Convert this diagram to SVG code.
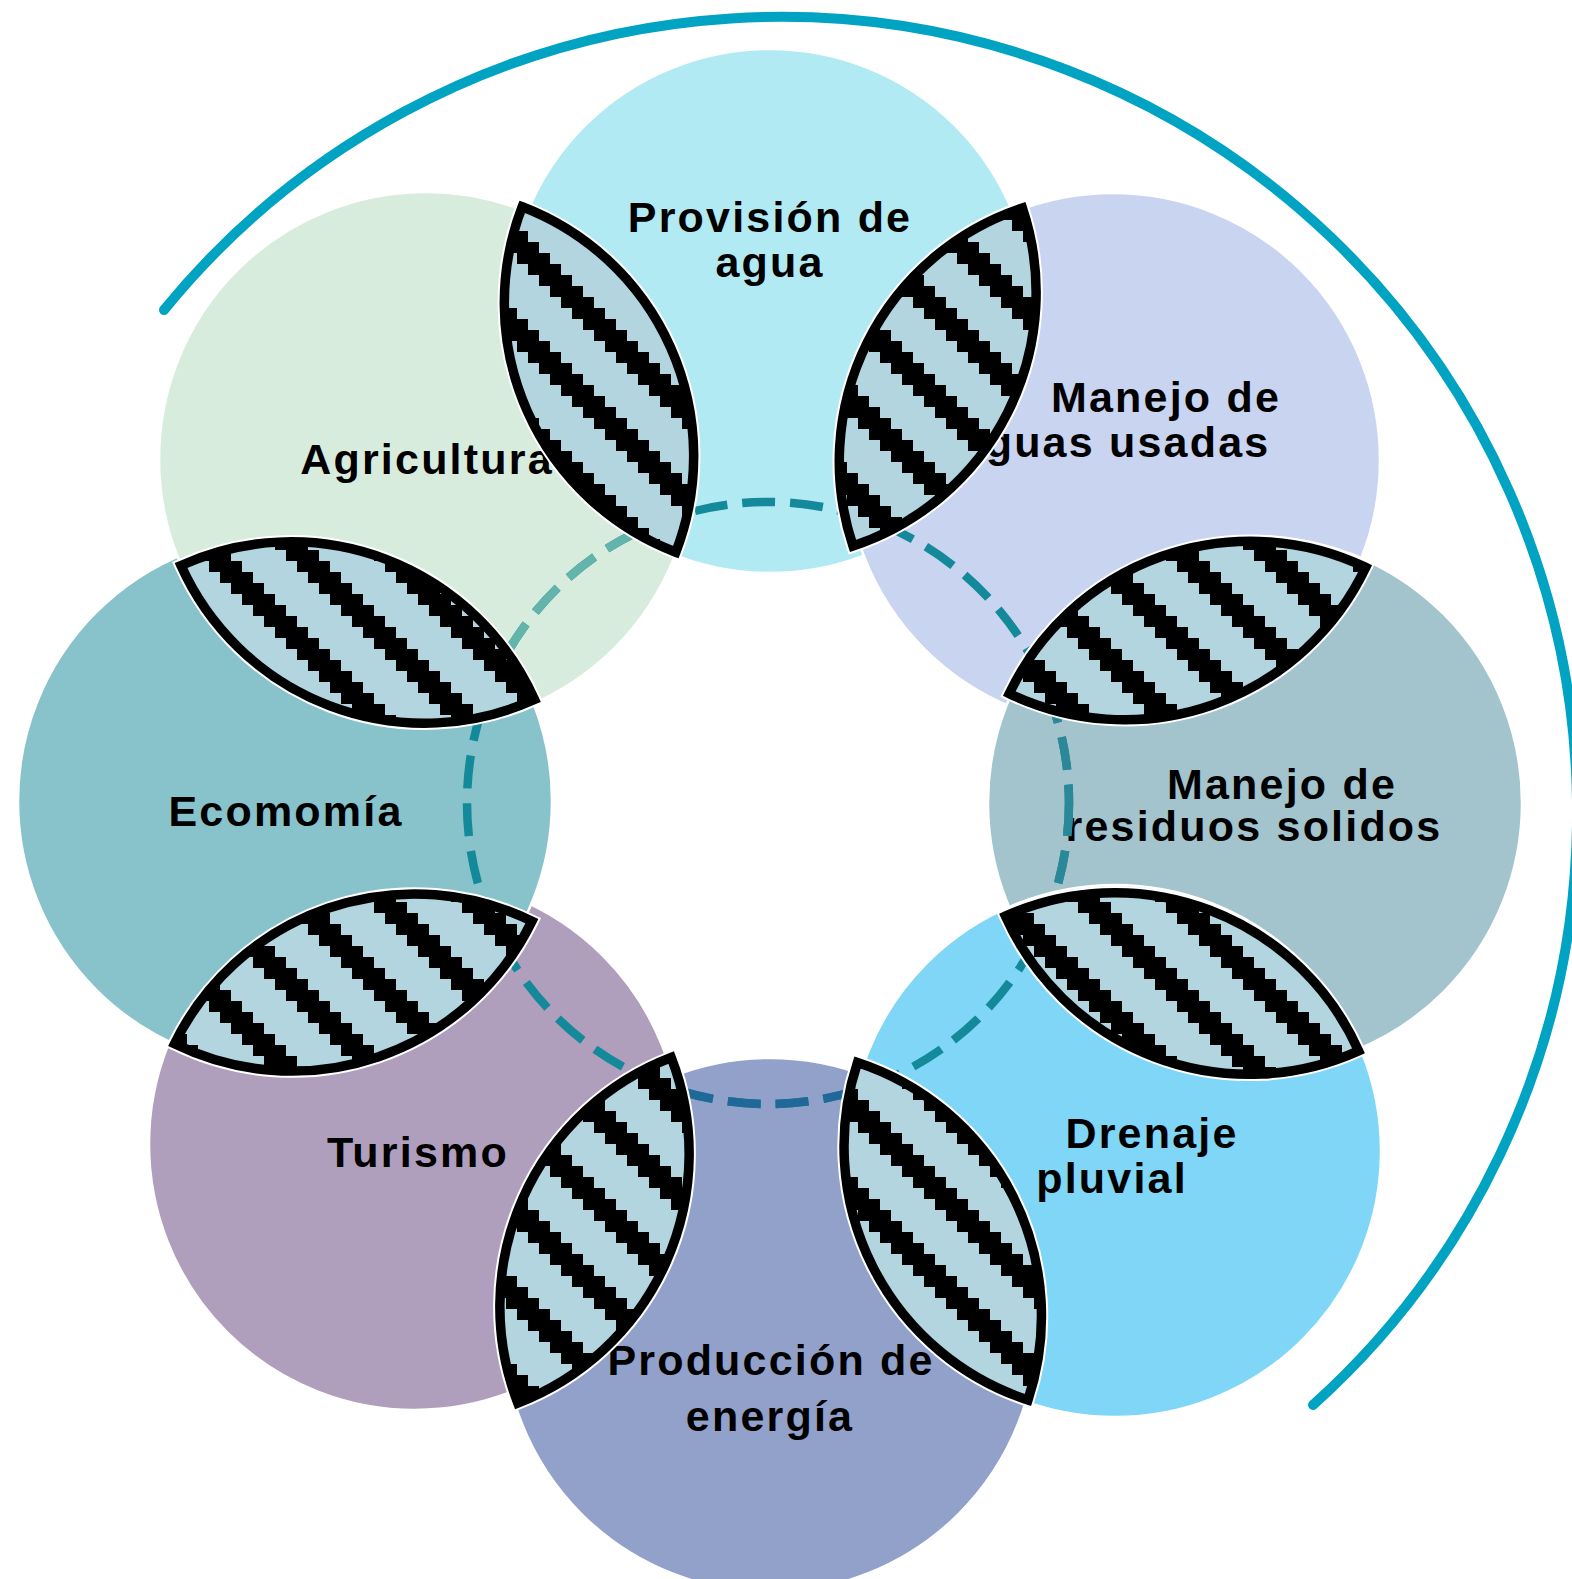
<svg xmlns="http://www.w3.org/2000/svg" width="1572" height="1579" viewBox="0 0 1572 1579">
<defs>
<style>
.lbl{font-family:"Liberation Sans",Arial,sans-serif;font-weight:700;font-size:43px;letter-spacing:2.2px;fill:#000;text-anchor:middle}
.node circle{stroke:#fff;stroke-width:2.5}
.leaf{fill:url(#hatch);stroke:#000;stroke-width:9.5;stroke-linejoin:miter}
.halo{fill:none;stroke:#fff;stroke-width:13.5;stroke-linejoin:miter}
.ring{fill:none;stroke-width:8.5;stroke-dasharray:33 15}
</style>
<pattern id="hatch" patternUnits="userSpaceOnUse" width="88" height="88">
<rect width="88" height="88" fill="#b2d5df"/>
<path shape-rendering="crispEdges" fill="#000" d="M0 0h33v11H0z M11 11h33v11H11z M22 22h33v11H22z M33 33h33v11H33z M44 44h33v11H44z M55 55h33v11H55z M66 66h22v11H66z M0 66h11v11H0z M77 77h11v11h-11z M0 77h22v11H0z"/>
</pattern>
<clipPath id="cAG"><circle cx="426" cy="459" r="267"/></clipPath>
<clipPath id="cPD"><circle cx="770" cy="1325" r="267"/></clipPath>
<clipPath id="cRS"><circle cx="1255" cy="803" r="267"/></clipPath>
</defs>
<rect width="1572" height="1579" fill="#fff"/>
<path id="outer-arc" d="M164 310 A796 796 0 1 1 1313 1405" fill="none" stroke="#00a3c1" stroke-width="10" stroke-linecap="round"/>
<g id="nodes">
<g id="node-provision" class="node"><circle cx="770" cy="311" r="262" fill="#b2eaf4"/>
<text class="lbl" x="770" y="232">Provisión de</text><text class="lbl" x="770" y="277">agua</text></g>
<g id="node-aguas-usadas" class="node"><circle cx="1113" cy="460" r="267" fill="#c9d4f0"/>
<text class="lbl" x="1166" y="412">Manejo de</text><text class="lbl" x="1115" y="457">aguas usadas</text></g>
<g id="node-residuos" class="node"><circle cx="1255" cy="803" r="267" fill="#a3c4cd"/>
<text class="lbl" x="1282" y="799">Manejo de</text><text class="lbl" x="1254" y="841">residuos solidos</text></g>
<g id="node-drenaje" class="node"><circle cx="1115" cy="1151" r="266" fill="#80d6f7"/>
<text class="lbl" x="1152" y="1148">Drenaje</text><text class="lbl" x="1112" y="1193">pluvial</text></g>
<g id="node-produccion" class="node"><circle cx="770" cy="1325" r="267" fill="#91a1ca"/>
<text class="lbl" x="771" y="1375">Producción de</text><text class="lbl" x="770" y="1431">energía</text></g>
<g id="node-turismo" class="node"><circle cx="415" cy="1144" r="266" fill="#af9ebc"/>
<text class="lbl" x="418" y="1167">Turismo</text></g>
<g id="node-economia" class="node"><circle cx="285" cy="801" r="267" fill="#88c3cb"/>
<text class="lbl" x="286" y="826">Ecomomía</text></g>
<g id="node-agricultura" class="node"><circle cx="426" cy="459" r="267" fill="#d8ecde"/>
<text class="lbl" x="427" y="474">Agricultura</text></g>
</g>
<g id="connectors">
<circle class="ring" cx="768" cy="803" r="301" stroke="#13899a"/>
<circle class="ring" cx="768" cy="803" r="301" stroke="#63b4aa" clip-path="url(#cAG)"/>
<circle class="ring" cx="768" cy="803" r="301" stroke="#1f6898" clip-path="url(#cPD)"/>
<circle class="ring" cx="768" cy="803" r="301" stroke="#2b8898" clip-path="url(#cRS)"/>
</g>
<g id="links">
<g id="leaf-1"><path class="halo" d="M522.2 206.8 A267 267 0 0 1 675.8 552.2 A267 267 0 0 1 522.2 206.8Z"/><path class="leaf" d="M522.2 206.8 A267 267 0 0 1 675.8 552.2 A267 267 0 0 1 522.2 206.8Z"/></g>
<g id="leaf-2"><path class="halo" d="M1022.4 208 A267 267 0 0 1 853 546 A267 267 0 0 1 1022.4 208Z"/><path class="leaf" d="M1022.4 208 A267 267 0 0 1 853 546 A267 267 0 0 1 1022.4 208Z"/></g>
<g id="leaf-3"><path class="halo" d="M1009.3 693.6 A267 267 0 0 1 1365.7 567.4 A267 267 0 0 1 1009.3 693.6Z"/><path class="leaf" d="M1009.3 693.6 A267 267 0 0 1 1365.7 567.4 A267 267 0 0 1 1009.3 693.6Z"/></g>
<g id="leaf-4"><path class="halo" d="M1005.4 916.1 A267 267 0 0 1 1358.6 1050.9 A267 267 0 0 1 1005.4 916.1Z"/><path class="leaf" d="M1005.4 916.1 A267 267 0 0 1 1358.6 1050.9 A267 267 0 0 1 1005.4 916.1Z"/></g>
<g id="leaf-5"><path class="halo" d="M857.5 1062.5 A267 267 0 0 1 1028 1400 A267 267 0 0 1 857.5 1062.5Z"/><path class="leaf" d="M857.5 1062.5 A267 267 0 0 1 1028 1400 A267 267 0 0 1 857.5 1062.5Z"/></g>
<g id="leaf-6"><path class="halo" d="M671.2 1057.5 A267 267 0 0 1 517.8 1403 A267 267 0 0 1 671.2 1057.5Z"/><path class="leaf" d="M671.2 1057.5 A267 267 0 0 1 517.8 1403 A267 267 0 0 1 671.2 1057.5Z"/></g>
<g id="leaf-7"><path class="halo" d="M174.5 1043.8 A267 267 0 0 1 532 921.2 A267 267 0 0 1 174.5 1043.8Z"/><path class="leaf" d="M174.5 1043.8 A267 267 0 0 1 532 921.2 A267 267 0 0 1 174.5 1043.8Z"/></g>
<g id="leaf-8"><path class="halo" d="M181 565.5 A267 267 0 0 1 534.5 699.5 A267 267 0 0 1 181 565.5Z"/><path class="leaf" d="M181 565.5 A267 267 0 0 1 534.5 699.5 A267 267 0 0 1 181 565.5Z"/></g>
</g>
</svg>
